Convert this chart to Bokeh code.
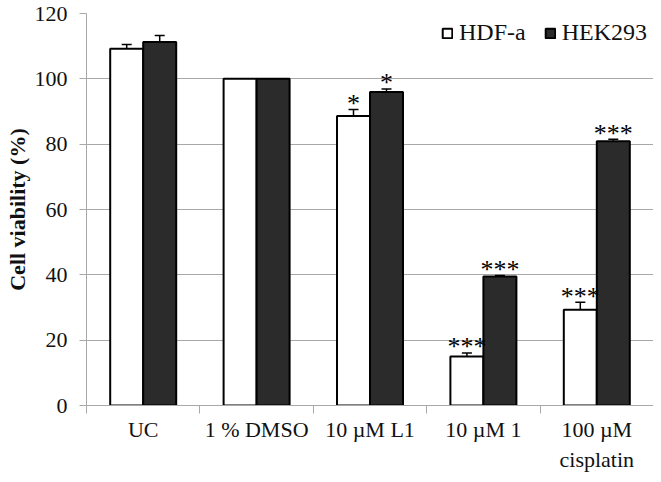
from bokeh.plotting import figure
from bokeh.models import (ColumnDataSource, Range1d, FixedTicker, LinearAxis,
                          Whisker, Legend, LegendItem)
from bokeh.transform import dodge
from bokeh.embed import file_html
from bokeh.resources import INLINE
from bokeh.core.properties import value

# ---- data ----
categories = ["UC", "1 % DMSO", "10 µM L1", "10 µM 1", "100 µM\ncisplatin"]
series = ["HDF-a", "HEK293"]
hdf = [109.2, 100.0, 88.6, 15.0, 29.3]
hdf_err = [1.3, 0.0, 2.0, 1.1, 2.3]
hek = [111.3, 100.0, 96.0, 39.5, 80.9]
hek_err = [2.0, 0.0, 0.9, 0.3, 0.6]
hdf_sig = ["", "", "*", "***", "***"]
hek_sig = ["", "", "*", "***", "***"]
y_ticks = [0, 20, 40, 60, 80, 100, 120]

FONT = "Liberation Serif"
DARK = "#2b2b2b"
GRID = "#a8a8a8"

n = len(categories)
centers = [i + 0.5 for i in range(n)]
bounds = list(range(n + 1))
src = ColumnDataSource(dict(
    xc=centers,
    hdf=hdf, hdf_lo=[v - e for v, e in zip(hdf, hdf_err)], hdf_hi=[v + e for v, e in zip(hdf, hdf_err)],
    hek=hek, hek_lo=[v - e for v, e in zip(hek, hek_err)], hek_hi=[v + e for v, e in zip(hek, hek_err)],
    hdf_sig=hdf_sig, hek_sig=hek_sig,
))

p = figure(x_range=Range1d(0, n), y_range=Range1d(0, 120),
           width=653, height=474, output_backend="svg", toolbar_location=None,
           x_axis_location=None, min_border_left=86, min_border_right=0,
           min_border_top=13, min_border_bottom=60)
p.outline_line_color = None
p.background_fill_color = "white"
p.border_fill_color = "white"
p.xgrid.visible = False
p.ygrid.grid_line_color = GRID
p.ygrid.grid_line_width = 1
p.ygrid.ticker = FixedTicker(ticks=y_ticks)

# y axis
ya = p.yaxis[0]
ya.ticker = FixedTicker(ticks=y_ticks)
ya.axis_line_color = GRID
ya.major_tick_line_color = GRID
ya.major_tick_in = 0
ya.major_tick_out = 7
ya.minor_tick_line_color = None
ya.major_label_text_font = FONT
ya.major_label_text_font_size = "22px"
ya.major_label_text_color = "#111111"
ya.major_label_standoff = 12
ya.axis_label = "Cell viability (%)"
ya.axis_label_text_font = FONT
ya.axis_label_text_font_style = "bold"
ya.axis_label_text_font_size = "22px"
ya.axis_label_text_color = "#111111"
ya.axis_label_standoff = 2

# x axis: labels at category centres, tick marks (minor) at category boundaries
xa = LinearAxis(ticker=FixedTicker(ticks=centers, minor_ticks=bounds),
                major_label_overrides={c: lab for c, lab in zip(centers, categories)},
                axis_line_color=GRID, major_tick_line_color=None,
                minor_tick_line_color=GRID, minor_tick_in=0, minor_tick_out=8,
                major_tick_in=0, major_tick_out=0,
                major_label_text_font=FONT, major_label_text_font_size="22px",
                major_label_text_color="#111111", major_label_standoff=3)
p.add_layout(xa, "below")

W = 0.291
r1 = p.vbar(x=dodge("xc", -W / 2), top="hdf", width=W, source=src,
            fill_color="white", line_color="black", line_width=2)
r2 = p.vbar(x=dodge("xc", W / 2), top="hek", width=W, source=src,
            fill_color=DARK, line_color="black", line_width=2)

for col, off in (("hdf", -W / 2), ("hek", W / 2)):
    wk = Whisker(source=src, base=dodge("xc", off),
                 lower=col + "_lo", upper=col + "_hi", dimension="height",
                 line_color="black", line_width=1.5)
    wk.upper_head.size = 10
    wk.lower_head.size = 10
    wk.upper_head.line_width = 1.5
    wk.lower_head.line_width = 1.5
    p.add_layout(wk)
    p.text(x=dodge("xc", off), y=col + "_hi", text=col + "_sig", source=src,
           text_font=value(FONT), text_font_size="26px", text_align="center",
           text_baseline="alphabetic", y_offset=-6, text_color="black")

legend = Legend(items=[LegendItem(label=series[0], renderers=[r1]),
                       LegendItem(label=series[1], renderers=[r2])],
                orientation="horizontal", location="top_right",
                label_text_font=FONT, label_text_font_size="24px", label_text_color="#111111",
                glyph_width=12, glyph_height=12, label_standoff=6, spacing=18,
                padding=0, margin=6, border_line_color=None, background_fill_alpha=1)
p.add_layout(legend)

open("out.html", "w").write(file_html(p, INLINE))
